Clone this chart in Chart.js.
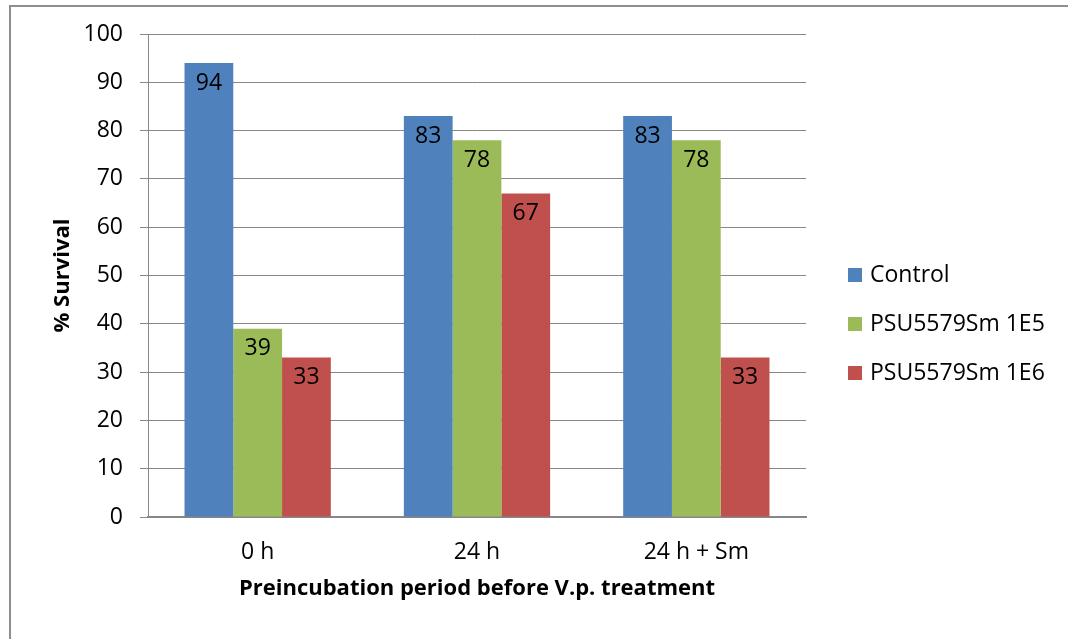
<!DOCTYPE html>
<html>
<head>
<meta charset="utf-8">
<script src="https://cdn.jsdelivr.net/npm/chart.js@4.4.1/dist/chart.umd.min.js"></script>
<style>
  body { margin: 0; background: #fff; overflow: hidden; }
  #marco { position: absolute; left: 9px; top: 5px; width: 1200px; height: 800px; border: 2px solid #8e8e8e; }
  #grafico { position: absolute; left: 0; top: 0; }
</style>
</head>
<body>
<div id="marco"></div>
<canvas id="grafico" width="1068" height="639"></canvas>
<script>
// datos
const categorias = ["0 h", "24 h", "24 h + Sm"];
const control = [94, 83, 83];
const psu1e5 = [39, 78, 78];
const psu1e6 = [33, 67, 33];
const ticksY = [0, 10, 20, 30, 40, 50, 60, 70, 80, 90, 100];

const fuente = "'Open Sans', 'Noto Sans', sans-serif";
const gris = "#878787";

// etiquetas dentro de cada barra
const etiquetas = {
  id: "etiquetas",
  afterDatasetsDraw(chart) {
    const ctx = chart.ctx;
    ctx.save();
    ctx.font = "23px " + fuente;
    ctx.fillStyle = "#000";
    ctx.textAlign = "center";
    ctx.textBaseline = "middle";
    chart.data.datasets.forEach(function (ds, i) {
      chart.getDatasetMeta(i).data.forEach(function (bar, j) {
        ctx.fillText(ds.data[j], bar.x, bar.y + 20);
      });
    });
    ctx.restore();
  },
};

// leyenda a la derecha
const leyenda = {
  id: "leyenda",
  afterDraw(chart) {
    const ctx = chart.ctx;
    const area = chart.chartArea;
    ctx.save();
    ctx.font = "23px " + fuente;
    ctx.textBaseline = "middle";
    ctx.textAlign = "left";
    let y = 274;
    chart.data.datasets.forEach(function (ds) {
      ctx.fillStyle = ds.backgroundColor;
      ctx.fillRect(area.right + 42, y - 6, 14, 14);
      ctx.fillStyle = "#000";
      ctx.fillText(ds.label, area.right + 64, y + 1);
      y += 49;
    });
    ctx.restore();
  },
};

new Chart(document.getElementById("grafico"), {
  type: "bar",
  data: {
    labels: categorias,
    datasets: [
      { label: "Control", data: control, backgroundColor: "#4F81BD" },
      { label: "PSU5579Sm 1E5", data: psu1e5, backgroundColor: "#9BBB59" },
      { label: "PSU5579Sm 1E6", data: psu1e6, backgroundColor: "#C0504D" },
    ],
  },
  options: {
    responsive: false,
    animation: false,
    categoryPercentage: 0.667,
    barPercentage: 1,
    layout: { padding: { left: 0, right: 262, top: 34, bottom: 0 } },
    plugins: { legend: { display: false }, tooltip: { enabled: false } },
    scales: {
      x: {
        afterFit(scale) { scale.height = 122; },
        grid: { display: false, drawTicks: false },
        border: { color: gris, width: 2 },
        ticks: { color: "#000", font: { family: fuente, size: 23 }, padding: 22 },
        title: {
          display: true,
          text: "Preincubation period before V.p. treatment",
          color: "#000",
          font: { family: fuente, size: 22, weight: "bold" },
          padding: { top: 0, bottom: 37 },
        },
      },
      y: {
        min: 0,
        max: 100,
        afterFit(scale) { scale.width = 148; },
        afterBuildTicks(scale) { scale.ticks = ticksY.map(function (v) { return { value: v }; }); },
        grid: { color: gris, lineWidth: 1, tickLength: 8 },
        border: { color: gris, width: 1 },
        ticks: { color: "#000", font: { family: fuente, size: 23 }, padding: 17 },
        title: {
          display: true,
          text: "% Survival",
          color: "#000",
          font: { family: fuente, size: 22, weight: "bold" },
          padding: { top: 50, bottom: 0 },
        },
      },
    },
  },
  plugins: [etiquetas, leyenda],
});
</script>
</body>
</html>
